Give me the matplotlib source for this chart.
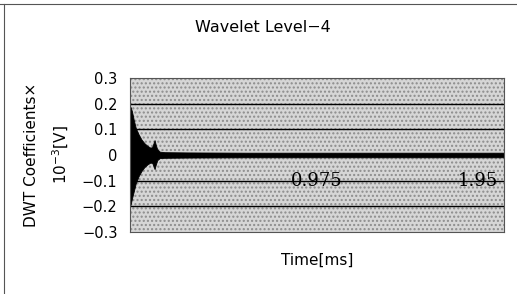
import numpy as np
import matplotlib
matplotlib.use("Agg")
import matplotlib.pyplot as plt
import matplotlib.transforms as mtransforms
from matplotlib.patches import Rectangle
from matplotlib.lines import Line2D

# envelope of the level-4 DWT coefficients
t_env = [0.0, 0.004, 0.01, 0.02, 0.03, 0.045, 0.06, 0.075, 0.09, 0.105, 0.115,
         0.122, 0.128, 0.134, 0.142, 0.155, 0.18, 0.3, 0.6, 1.0, 1.5, 1.95]
upper = [0.19, 0.185, 0.17, 0.135, 0.105, 0.08, 0.06, 0.046, 0.036, 0.029, 0.03,
         0.045, 0.058, 0.04, 0.022, 0.013, 0.011, 0.01, 0.009, 0.009, 0.009, 0.009]
lower = [-0.2, -0.19, -0.17, -0.14, -0.11, -0.082, -0.062, -0.047, -0.037, -0.03, -0.03,
         -0.042, -0.055, -0.038, -0.02, -0.012, -0.011, -0.01, -0.009, -0.009, -0.009, -0.009]

y_ticks = [-0.3, -0.2, -0.1, 0, 0.1, 0.2, 0.3]
y_labels = ["\u22120.3", "\u22120.2", "\u22120.1", "0", "0.1", "0.2", "0.3"]
x_ticks = [0.975, 1.95]
x_labels = ["0.975", "1.95"]
grid_levels = [-0.2, -0.1, 0.1, 0.2]

plt.rcParams['font.family'] = ['DejaVu Sans']

fig = plt.figure(figsize=(5.17, 2.94), dpi=100)
ax = fig.add_axes([0.2515, 0.2109, 0.7234, 0.5238])

# stippled grey plot area
ax.set_facecolor('#d6d6d6')
ax.add_patch(Rectangle((0, 0), 1, 1, transform=ax.transAxes, facecolor='none',
                       edgecolor='#8c8c8c', hatch='....', linewidth=0, zorder=0))

for g in grid_levels:
    ax.axhline(g, color='black', linewidth=1.0, zorder=1)

ax.fill_between(t_env, lower, upper, color='black', linewidth=0.6, zorder=2)

ax.set_xlim(0, 1.95)
ax.set_ylim(-0.3, 0.3)
ax.set_yticks(y_ticks)
ax.set_yticklabels(y_labels, fontsize=10.5)
ax.tick_params(axis='y', length=0, pad=9)

ax.set_xticks(x_ticks)
ax.set_xticklabels(x_labels, fontsize=13, family='DejaVu Serif')
ax.tick_params(axis='x', length=0, pad=-43)
last = ax.get_xticklabels()[-1]
last.set_horizontalalignment('right')
last.set_transform(last.get_transform() +
                   mtransforms.ScaledTranslation(-0.06, 0, fig.dpi_scale_trans))

for s in ax.spines.values():
    s.set_color('#555555')
    s.set_linewidth(0.8)

ax.set_xlabel("Time[ms]", fontsize=11, labelpad=15)
ax.set_ylabel("DWT Coefficients\u00d7\n10$^{-3}$[V]", fontsize=11, labelpad=8,
              linespacing=1.75)

fig.text(0.509, 0.905, "Wavelet Level\u22124", ha='center', va='center',
         fontsize=11.5)

# outer frame (left and top edges only)
fig.add_artist(Line2D([0.008, 0.008], [0.0, 0.985], color='#555555', linewidth=0.8))
fig.add_artist(Line2D([0.0, 1.0], [0.985, 0.985], color='#555555', linewidth=0.8))

fig.savefig("out.png", dpi=100)
